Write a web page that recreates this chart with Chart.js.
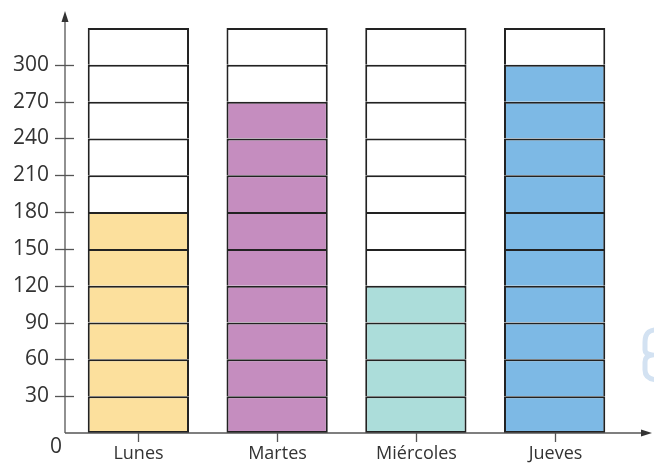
<!DOCTYPE html>
<html>
<head>
<meta charset="utf-8">
<script src="https://cdn.jsdelivr.net/npm/chart.js@4"></script>
<style>
  html, body { margin: 0; padding: 0; background: #fff; font-family: 'Open Sans'; }
  #wrap { width: 654px; height: 464px; position: relative; }
</style>
</head>
<body>
<div id="wrap"><canvas id="grafico"></canvas></div>
<script>
// datos
const dias = ["Lunes", "Martes", "Miércoles", "Jueves"];
const valores = [180, 270, 120, 300];
const colores = ["#FCE09D", "#C58DBF", "#ACDDDA", "#7DB9E5"];
const yTicks = [30, 60, 90, 120, 150, 180, 210, 240, 270, 300];
const paso = 30;
const tope = 330;

// cada barra se parte en tramos de 30; se pintan los que caen bajo el valor
const tramos = [];
for (let k = 0; k < tope / paso; k++) {
  tramos.push({
    data: valores.map(() => paso),
    backgroundColor: valores.map((v, i) => ((k + 1) * paso <= v ? colores[i] : "#ffffff")),
    borderColor: "#222222",
    borderWidth: { top: 2, left: 2, right: 2, bottom: k === 0 ? 2 : 0 },
    borderSkipped: false,
    barPercentage: 0.73,
    categoryPercentage: 1,
  });
}

const ejes = {
  id: "ejes",
  afterDraw(chart) {
    const ctx = chart.ctx;
    const x = chart.scales.x;
    const y = chart.scales.y;
    const x0 = 65;
    const y0 = y.getPixelForValue(0);
    ctx.save();
    ctx.strokeStyle = "#555555";
    ctx.fillStyle = "#333333";
    ctx.lineWidth = 1.3;

    // eje y con flecha
    ctx.beginPath();
    ctx.moveTo(x0, y0);
    ctx.lineTo(x0, 16);
    ctx.stroke();
    ctx.beginPath();
    ctx.moveTo(x0, 11);
    ctx.lineTo(x0 - 3.5, 22);
    ctx.lineTo(x0 + 3.5, 22);
    ctx.closePath();
    ctx.fill();

    // eje x con flecha
    ctx.beginPath();
    ctx.moveTo(x0, y0);
    ctx.lineTo(646, y0);
    ctx.stroke();
    ctx.beginPath();
    ctx.moveTo(652, y0);
    ctx.lineTo(641, y0 - 3.5);
    ctx.lineTo(641, y0 + 3.5);
    ctx.closePath();
    ctx.fill();

    // marcas y etiquetas del eje y
    ctx.font = "21px 'Open Sans'";
    ctx.fillStyle = "#333333";
    ctx.textAlign = "right";
    ctx.textBaseline = "middle";
    yTicks.forEach((t) => {
      const py = Math.round(y.getPixelForValue(t)) + 0.5;
      ctx.beginPath();
      ctx.moveTo(55, py);
      ctx.lineTo(74, py);
      ctx.stroke();
      ctx.fillText(String(t), 49, py);
    });
    ctx.textAlign = "center";
    ctx.fillText("0", 56, y0 + 14);

    // marcas y etiquetas del eje x
    ctx.font = "18px 'Open Sans'";
    ctx.textBaseline = "middle";
    dias.forEach((d, i) => {
      const px = Math.round(x.getPixelForValue(i)) + 0.5;
      ctx.beginPath();
      ctx.moveTo(px, y0);
      ctx.lineTo(px, y0 + 9);
      ctx.stroke();
      ctx.fillText(d, px, y0 + 21);
    });

    // adorno azul claro cortado en el borde derecho
    ctx.strokeStyle = "#D3E2F2";
    ctx.lineWidth = 5;
    ctx.beginPath();
    ctx.moveTo(660, 330);
    ctx.quadraticCurveTo(645, 328, 645, 342);
    ctx.lineTo(645, 350);
    ctx.quadraticCurveTo(645, 354, 652, 355);
    ctx.quadraticCurveTo(645, 356, 645, 362);
    ctx.lineTo(645, 370);
    ctx.quadraticCurveTo(645, 380, 660, 380);
    ctx.stroke();
    ctx.restore();
  },
};

document.fonts.load("21px 'Open Sans'").then(() => {
  new Chart(document.getElementById("grafico"), {
    type: "bar",
    data: { labels: dias, datasets: tramos },
    options: {
      responsive: true,
      maintainAspectRatio: false,
      animation: false,
      layout: { padding: { left: 69, right: 30, top: 28, bottom: 31 } },
      plugins: { legend: { display: false }, tooltip: { enabled: false } },
      scales: {
        x: { stacked: true, display: false },
        y: { stacked: true, display: false, min: 0, max: tope },
      },
    },
    plugins: [ejes],
  });
});
</script>
</body>
</html>
